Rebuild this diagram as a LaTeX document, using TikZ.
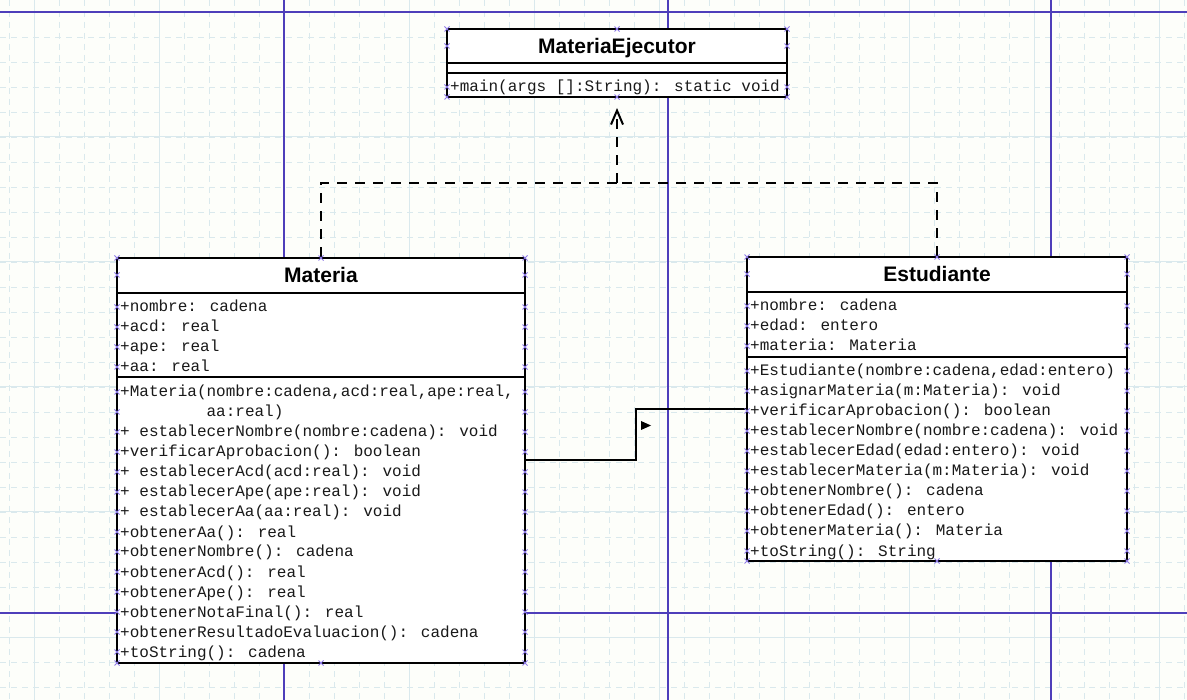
\documentclass[tikz,border=0pt]{standalone}
\usepackage{fontspec}
\usetikzlibrary{arrows.meta,calc}
\newfontfamily\umlmono{Liberation Mono}
\newfontfamily\umlsans{Liberation Sans}
\definecolor{umlbg}{RGB}{253,254,250}
\definecolor{umlgrid}{RGB}{218,233,237}
\definecolor{umlpage}{RGB}{78,62,186}
\definecolor{umlhx}{RGB}{140,120,230}
\tikzset{umlbox/.style={draw,line width=2pt,fill=white,inner sep=0pt},
         umlsep/.style={line width=2pt},
         umlmem/.style={anchor=base west,inner sep=0pt,font=\umlmono\fontsize{16}{20}\selectfont,text=black!90},
         umlname/.style={anchor=base,inner sep=0pt,font=\umlsans\bfseries\fontsize{21}{24}\selectfont},
         umldep/.style={line width=2pt,dash pattern=on 10pt off 8pt},
         umlassoc/.style={line width=2pt},
         umlminor/.style={umlgrid,line width=0.9pt,dash pattern=on 6pt off 5pt},
         umlmajor/.style={umlgrid,line width=1pt},
         umlpagel/.style={umlpage,line width=1.6pt},
         hx/.pic={\draw[umlhx,line width=0.8pt] (-2.5,-2.5)--(2.5,2.5) (-2.5,2.5)--(2.5,-2.5);}}

\begin{document}
\begin{tikzpicture}[x=1pt,y=-1pt]
  \useasboundingbox (0,0) rectangle (1187,700);
  \fill[umlbg] (0,0) rectangle (1187,700);
  \foreach \x in {9,34,...,1184} \draw[umlminor] (\x,0) -- (\x,700);
  \foreach \y in {12,37,...,687} \draw[umlminor] (0,\y) -- (1187,\y);
  \foreach \x in {34,159,...,1159} \draw[umlmajor] (\x,0) -- (\x,700);
  \foreach \y in {12,137,...,637} \draw[umlmajor] (0,\y) -- (1187,\y);
  \foreach \x in {284,668,1051} \draw[umlpagel] (\x,0) -- (\x,700);
  \foreach \y in {12,613} \draw[umlpagel] (0,\y) -- (1187,\y);

  \node[umlbox,minimum width=340pt,minimum height=68pt] (ejecutor) at (617,63) {};
  \node[umlbox,minimum width=408pt,minimum height=405pt] (materia) at (321,460.5) {};
  \node[umlbox,minimum width=380pt,minimum height=304pt] (estudiante) at (937,409) {};

  \coordinate (depjoin) at (ejecutor.south |- 0,183);
  \draw[umldep] (materia.north) |- (depjoin);
  \draw[umldep] (estudiante.north) |- (depjoin);
  \draw[umldep,shorten >=10pt,-{Straight Barb[length=14pt,width=12pt]}] (depjoin) -- (ejecutor.south);
  \draw[umlassoc] (materia.east) -| ($(materia.east)!.5!(estudiante.west)$) |- (estudiante.west);
  \fill (641,421) -- (651,425.5) -- (641,430) -- cycle;

  \foreach \y in {63,73} \draw[umlsep] (447,\y) -- (787,\y);
  \foreach \y in {293,377} \draw[umlsep] (117,\y) -- (525,\y);
  \foreach \y in {292,357} \draw[umlsep] (747,\y) -- (1127,\y);

  \node[umlname] (ejecutor-n) at (617,53.5) {MateriaEjecutor};
  \node[umlname] (materia-n) at (321,283) {Materia};
  \node[umlname] (estudiante-n) at (937,282) {Estudiante};

  \node[umlmem] (ejecutor-m0) at (450,92) {+main(args []:String): static void};

  \foreach \t [count=\i from 0] in {{+nombre: cadena},{+acd: real},{+ape: real},{+aa: real}}
    \node[umlmem] (materia-a\i) at (120,{312+20*\i}) {\t};
  \foreach \t [count=\i from 0] in {{+Materia(nombre:cadena,acd:real,ape:real,},
      {\phantom{+Materia(}aa:real)},{+ establecerNombre(nombre:cadena): void},
      {+verificarAprobacion(): boolean},{+ establecerAcd(acd:real): void},
      {+ establecerApe(ape:real): void},{+ establecerAa(aa:real): void},
      {+obtenerAa(): real},{+obtenerNombre(): cadena},{+obtenerAcd(): real},
      {+obtenerApe(): real},{+obtenerNotaFinal(): real},
      {+obtenerResultadoEvaluacion(): cadena},{+toString(): cadena}}
    \node[umlmem] (materia-m\i) at (120,{397+20*\i}) {\t};

  \foreach \t [count=\i from 0] in {{+nombre: cadena},{+edad: entero},{+materia: Materia}}
    \node[umlmem] (estudiante-a\i) at (750,{311+20*\i}) {\t};
  \foreach \t [count=\i from 0] in {{+Estudiante(nombre:cadena,edad:entero)},
      {+asignarMateria(m:Materia): void},{+verificarAprobacion(): boolean},
      {+establecerNombre(nombre:cadena): void},{+establecerEdad(edad:entero): void},
      {+establecerMateria(m:Materia): void},{+obtenerNombre(): cadena},
      {+obtenerEdad(): entero},{+obtenerMateria(): Materia},{+toString(): String}}
    \node[umlmem] (estudiante-m\i) at (750,{376+20*\i}) {\t};

  \foreach \y in {29,46,87,97} {\pic at (447,\y) {hx}; \pic at (787,\y) {hx};}
  \foreach \x in {617} {\pic at (\x,29) {hx}; \pic at (\x,97) {hx};}
  \foreach \y in {258,275,307,327,347,367,392,412,...,652,663} {\pic at (117,\y) {hx}; \pic at (525,\y) {hx};}
  \foreach \x in {321} {\pic at (\x,258) {hx}; \pic at (\x,663) {hx};}
  \foreach \y in {257,274,306,326,346,371,391,...,551,561} {\pic at (747,\y) {hx}; \pic at (1127,\y) {hx};}
  \foreach \x in {937} {\pic at (\x,257) {hx}; \pic at (\x,561) {hx};}
\end{tikzpicture}
\end{document}
